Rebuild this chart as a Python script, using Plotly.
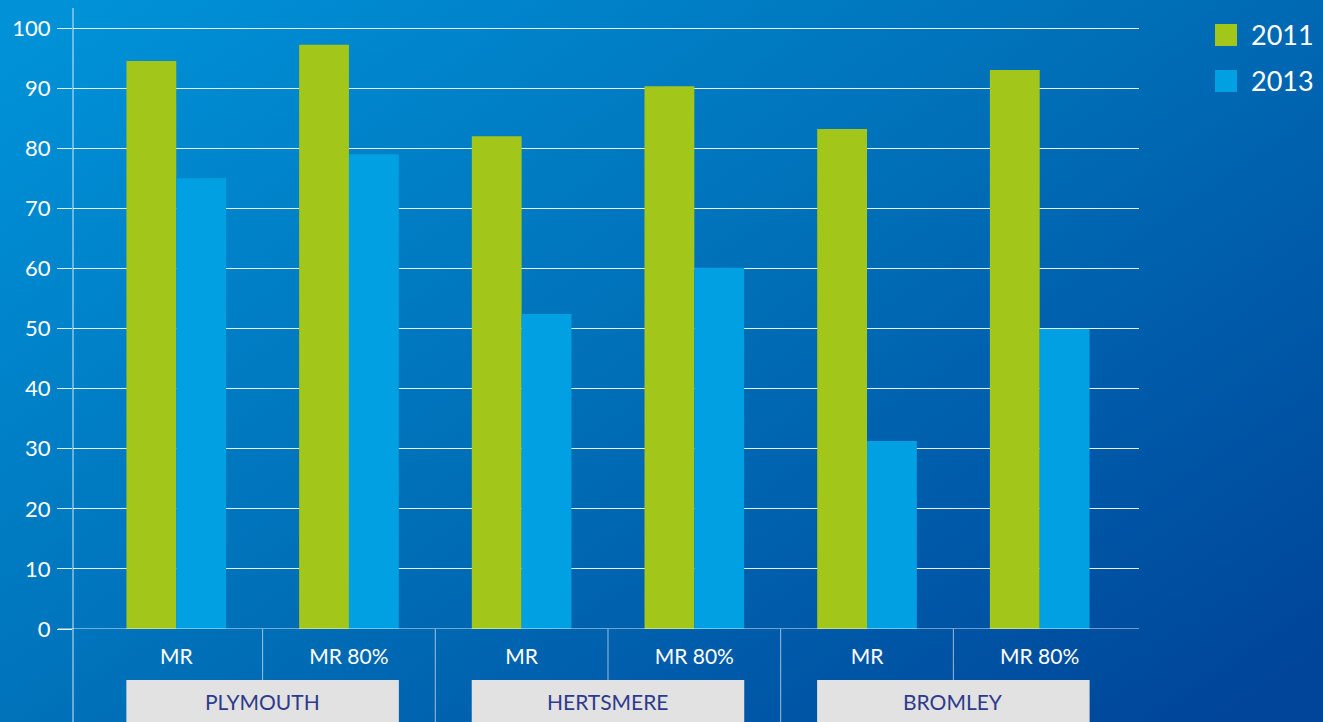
import base64
import plotly.graph_objects as go

# ---- data ----
categories = ["MR", "MR 80%", "MR", "MR 80%", "MR", "MR 80%"]
groups = ["PLYMOUTH", "HERTSMERE", "BROMLEY"]
series_names = ["2011", "2013"]
values_2011 = [94.5, 97.2, 82.0, 90.3, 83.2, 93.0]
values_2013 = [75.0, 79.0, 52.4, 60.1, 31.3, 49.9]
y_ticks = [0, 10, 20, 30, 40, 50, 60, 70, 80, 90, 100]

GREEN = "#a3c61a"
BLUE = "#00a0e3"
FONT = "Lato, 'Open Sans', sans-serif"

W, H = 1323, 722
L, R, T, B = 73, 184, 8, 93
pw, ph = W - L - R, H - T - B

xs = list(range(len(categories)))

fig = go.Figure()
fig.add_trace(go.Bar(x=xs, y=values_2011, name=series_names[0], marker=dict(color=GREEN, line=dict(width=0))))
fig.add_trace(go.Bar(x=xs, y=values_2013, name=series_names[1], marker=dict(color=BLUE, line=dict(width=0))))

# gradient background via svg data uri
svg = f'''<svg xmlns="http://www.w3.org/2000/svg" width="{W}" height="{H}" preserveAspectRatio="none">
<defs><linearGradient id="g" x1="0" y1="0.1" x2="1" y2="0.9">
<stop offset="0" stop-color="#0091d7"/>
<stop offset="0.45" stop-color="#0072ba"/>
<stop offset="1" stop-color="#00459a"/>
</linearGradient></defs>
<rect width="{W}" height="{H}" fill="url(#g)"/></svg>'''
src = "data:image/svg+xml;base64," + base64.b64encode(svg.encode()).decode()

shapes = []
annotations = []
# vertical axis line
shapes.append(dict(type="line", xref="paper", yref="paper", x0=0, x1=0,
                   y0=1, y1=-B / ph, line=dict(color="rgba(255,255,255,0.55)", width=1.5)))
# zero line
shapes.append(dict(type="line", xref="paper", yref="y", x0=-15 / pw, x1=1, y0=0, y1=0,
                   line=dict(color="rgba(255,255,255,0.85)", width=1.2)))
# separators
box_top = -51 / ph
for i in range(1, len(categories)):
    full = (i % 2 == 0)
    shapes.append(dict(type="line", xref="x", yref="paper", x0=i - 0.5, x1=i - 0.5,
                       y0=0, y1=(-B / ph if full else box_top),
                       line=dict(color="rgba(255,255,255,0.6)", width=1)))
# group boxes
half = 0.289
for gi, g in enumerate(groups):
    a, b = 2 * gi, 2 * gi + 1
    shapes.append(dict(type="rect", xref="x", yref="paper", x0=a - half, x1=b + half,
                       y0=box_top, y1=-B / ph - 0.01, fillcolor="#e2e2e2", line=dict(width=0), layer="above"))
    annotations.append(dict(x=(a + b) / 2, xref="x", yref="paper", y=(box_top + (-B / ph)) / 2,
                            text=g, showarrow=False, font=dict(family=FONT, size=21, color="#2e3a8c"),
                            yanchor="middle"))

# legend
leg_colors = [GREEN, BLUE]
for k, name in enumerate(series_names):
    y_top = 24 + k * 46
    shapes.append(dict(type="rect", xref="paper", yref="paper",
                       x0=(1215 - L) / pw, x1=(1237 - L) / pw,
                       y0=1 - (y_top + 22 - T) / ph, y1=1 - (y_top - T) / ph,
                       fillcolor=leg_colors[k], line=dict(width=0)))
    annotations.append(dict(xref="paper", yref="paper", x=(1249 - L) / pw, y=1 - (y_top + 11 - T) / ph,
                            text=name, showarrow=False, xanchor="left", yanchor="middle",
                            font=dict(family=FONT, size=27, color="white")))

fig.update_layout(
    width=W, height=H,
    margin=dict(l=L, r=R, t=T, b=B, pad=0),
    paper_bgcolor="#0070b8", plot_bgcolor="rgba(0,0,0,0)",
    barmode="group", bargap=0.423, bargroupgap=0,
    showlegend=False,
    images=[dict(source=src, xref="paper", yref="paper", x=-L / pw, y=1 + T / ph,
                 sizex=W / pw, sizey=H / ph, sizing="stretch", layer="below",
                 xanchor="left", yanchor="top")],
    shapes=shapes, annotations=annotations,
    font=dict(family=FONT, color="white"),
)
fig.update_xaxes(range=[-0.598, 5.575], tickvals=xs, ticktext=categories, showgrid=False,
                 zeroline=False, showline=False, ticks="", ticklabelstandoff=13,
                 tickfont=dict(family=FONT, size=21, color="white"))
fig.update_yaxes(range=[0, (629 - T) / 6.01], tickvals=y_ticks, showgrid=True,
                 gridcolor="rgba(255,255,255,0.9)", gridwidth=1, zeroline=False, showline=False,
                 ticks="outside", ticklen=15, tickcolor="rgba(255,255,255,0.9)", tickwidth=1,
                 ticklabelstandoff=2,
                 tickfont=dict(family=FONT, size=22, color="white"))

fig.write_html("out.html")
